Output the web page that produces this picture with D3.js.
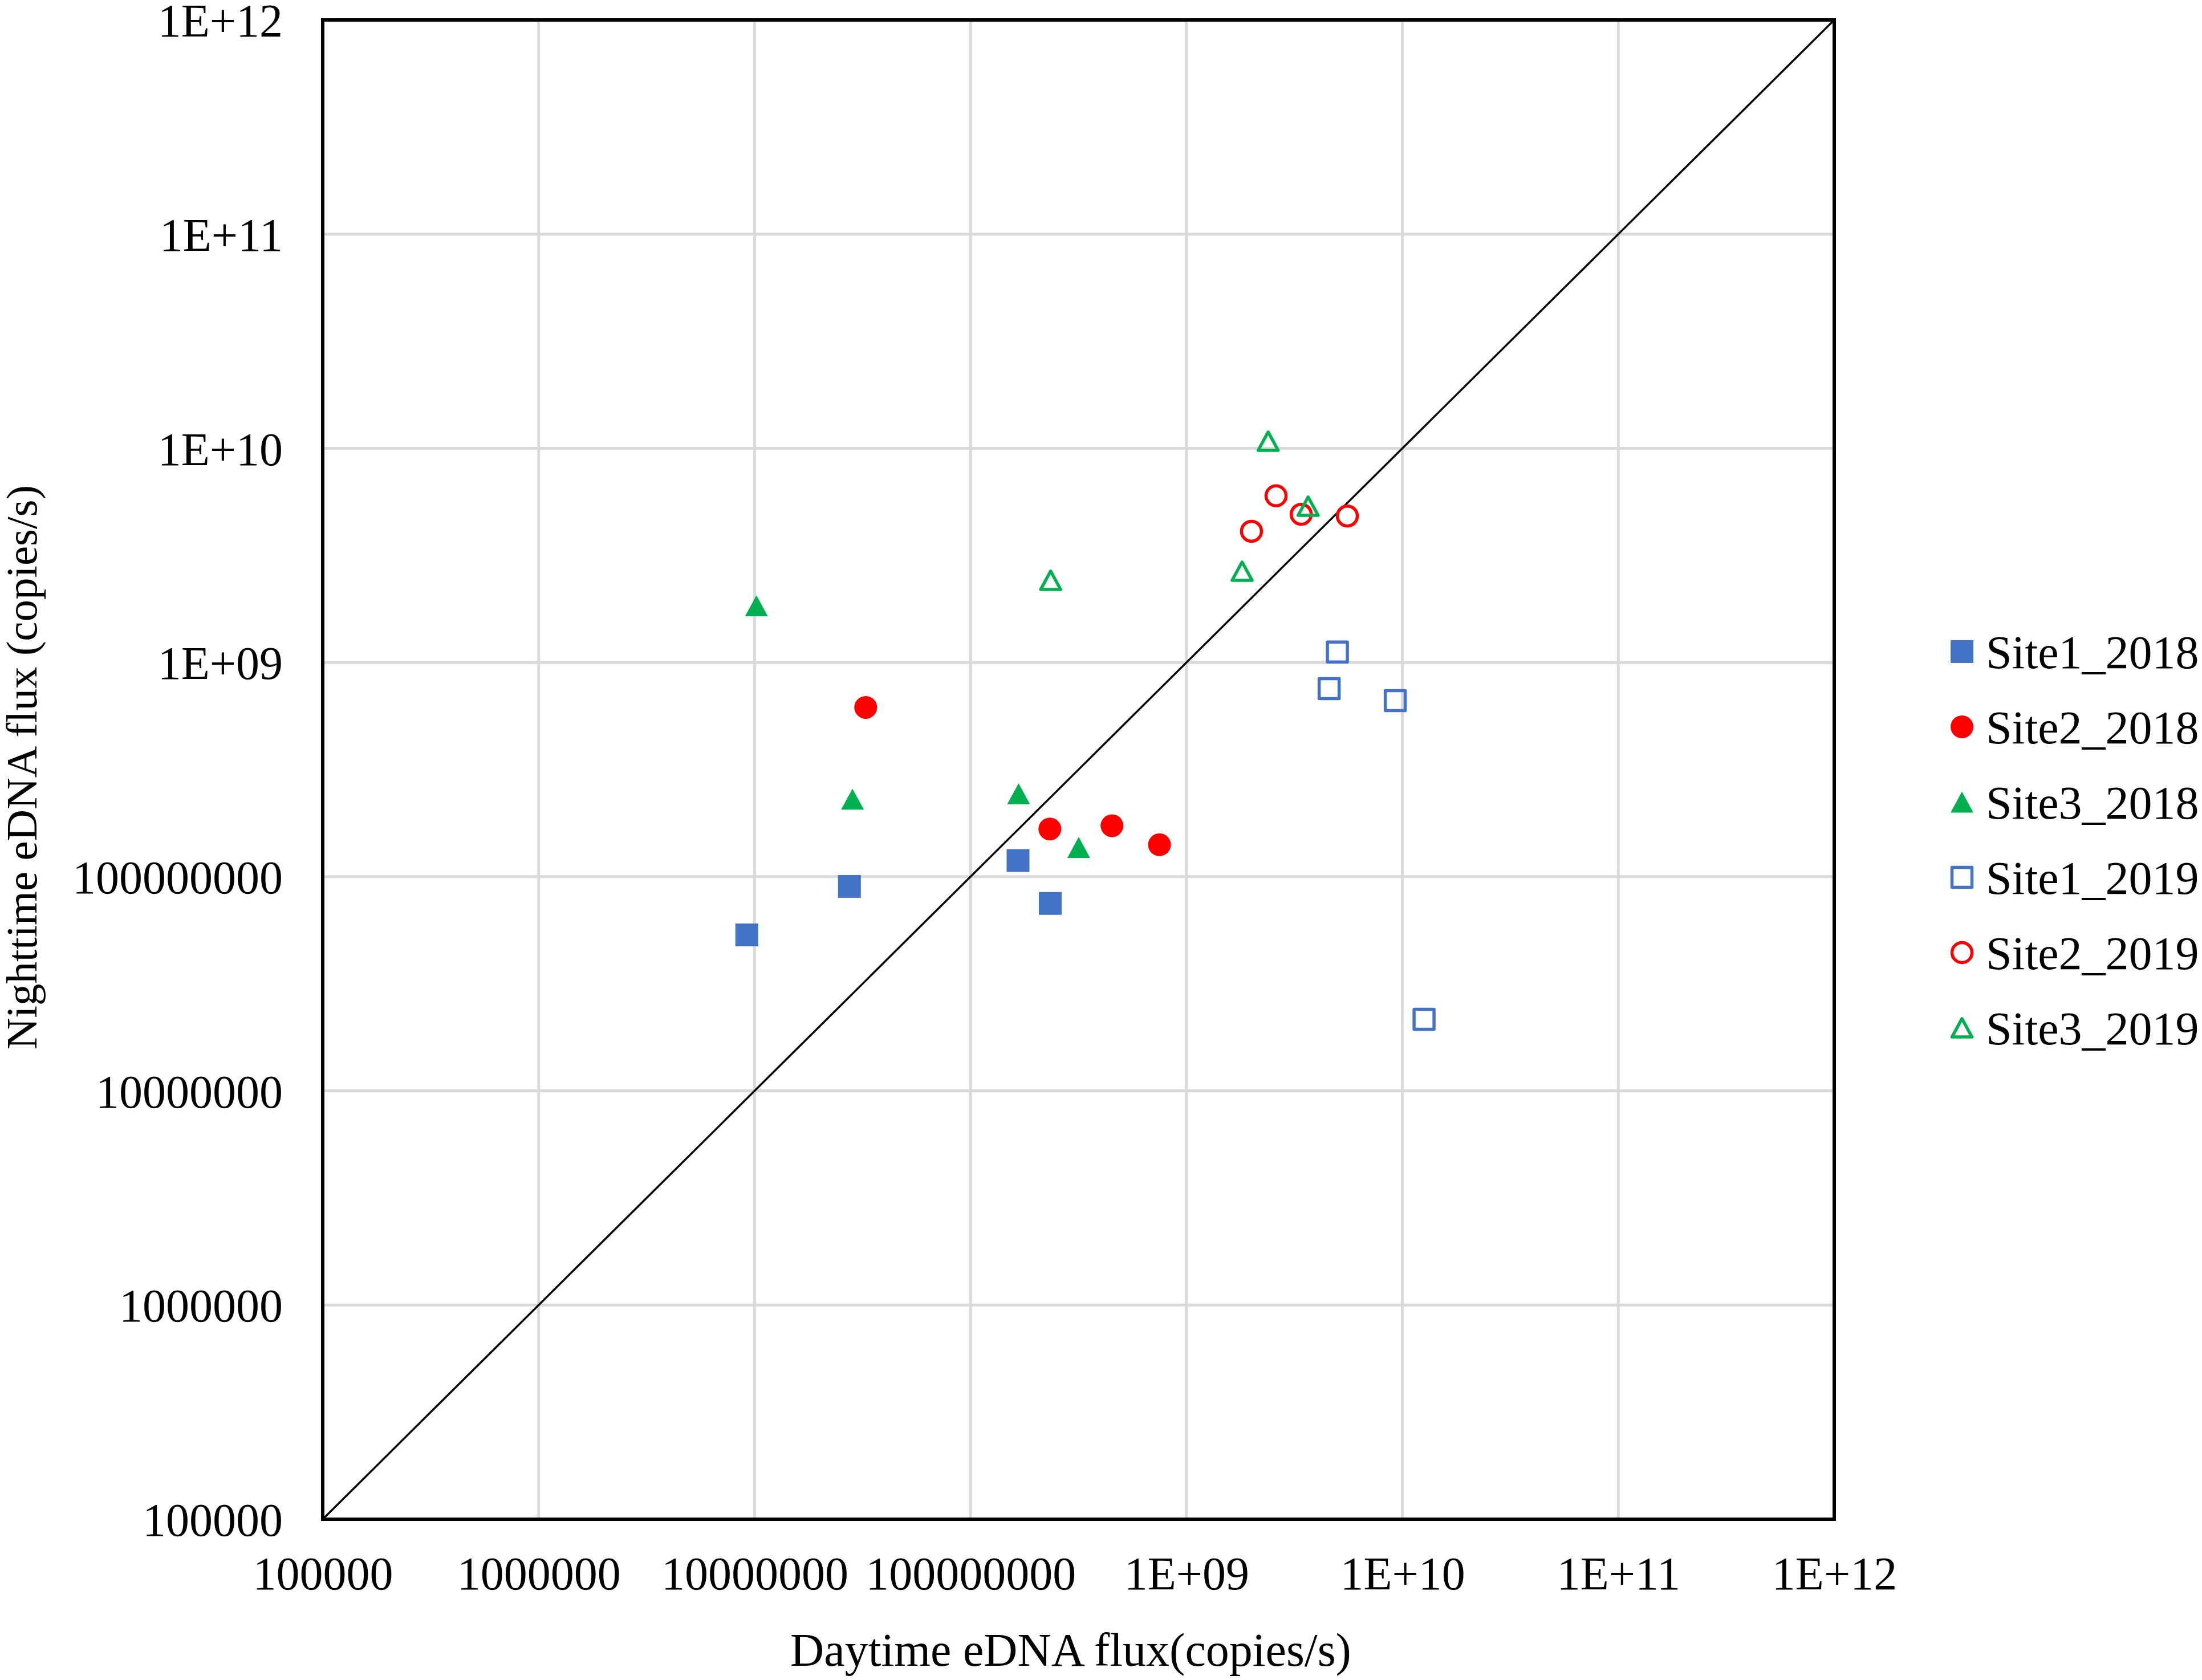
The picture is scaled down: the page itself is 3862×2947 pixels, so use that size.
<!DOCTYPE html>
<html>
<head>
<meta charset="utf-8">
<script src="https://cdn.jsdelivr.net/npm/d3@7"></script>
<style>
  body { margin: 0; background: #fff; }
  text { font-family: "Liberation Serif", "Times New Roman", serif; fill: #000; }
</style>
</head>
<body>
<svg id="drawing_region"></svg>
<script>
// values (copies/s)
const seriesNames = ['Site1_2018', 'Site2_2018', 'Site3_2018', 'Site1_2019', 'Site2_2019', 'Site3_2019'];

const site1_2018_day   = [9.2e6, 2.75e7, 1.66e8, 2.34e8];
const site1_2018_night = [5.35e7, 9.0e7, 1.19e8, 7.5e7];
const site2_2018_day   = [3.27e7, 2.33e8, 4.52e8, 7.5e8];
const site2_2018_night = [6.17e8, 1.67e8, 1.73e8, 1.41e8];
const site3_2018_day   = [1.02e7, 2.84e7, 1.67e8, 3.17e8];
const site3_2018_night = [1.84e9, 2.30e8, 2.44e8, 1.37e8];
const site1_2019_day   = [5.0e9, 4.58e9, 9.27e9, 1.26e10];
const site1_2019_night = [1.12e9, 7.55e8, 6.64e8, 2.16e7];
const site2_2019_day   = [2.0e9, 2.6e9, 3.4e9, 5.56e9];
const site2_2019_night = [4.1e9, 6.0e9, 4.92e9, 4.83e9];
const site3_2019_day   = [2.35e8, 1.81e9, 2.39e9, 3.66e9];
const site3_2019_night = [2.42e9, 2.67e9, 1.08e10, 5.37e9];

const tickValues = [1e5, 1e6, 1e7, 1e8, 1e9, 1e10, 1e11, 1e12];

const dayValues   = [site1_2018_day, site2_2018_day, site3_2018_day, site1_2019_day, site2_2019_day, site3_2019_day];
const nightValues = [site1_2018_night, site2_2018_night, site3_2018_night, site1_2019_night, site2_2019_night, site3_2019_night];

const series = seriesNames.map((name, i) => ({
    name: name,
    shape: ['square', 'circle', 'triangle'][i % 3],
    color: ['#4472C4', '#FF0000', '#00B050'][i % 3],
    filled: i < 3,
    points: dayValues[i].map((d, j) => ({ day: d, night: nightValues[i][j] }))
}));

const config = {
    width: 3862,
    height: 2947,
    margin: { left: 566, right: 645, top: 35, bottom: 282 },
    fontSize: 82
};

const W = config.width, H = config.height;
const plotLeft = config.margin.left, plotRight = W - config.margin.right;
const plotTop = config.margin.top, plotBottom = H - config.margin.bottom;

const svg = d3.select('#drawing_region')
    .attr('width', W)
    .attr('height', H);

const x = d3.scaleLog().domain([1e5, 1e12]).range([plotLeft, plotRight]);
const y = d3.scaleLog().domain([1e5, 1e12]).range([plotBottom, plotTop]);

const fmt = v => {
    const e = Math.round(Math.log10(v));
    return e < 9 ? String(Math.round(v)) : '1E+' + String(e).padStart(2, '0');
};

// grid
svg.append('g')
    .selectAll('line')
    .data(tickValues)
    .enter()
    .append('line')
    .attr('x1', d => x(d)).attr('x2', d => x(d))
    .attr('y1', plotTop).attr('y2', plotBottom)
    .attr('stroke', '#d9d9d9')
    .attr('stroke-width', 5);

svg.append('g')
    .selectAll('line')
    .data(tickValues)
    .enter()
    .append('line')
    .attr('x1', plotLeft).attr('x2', plotRight)
    .attr('y1', d => y(d)).attr('y2', d => y(d))
    .attr('stroke', '#d9d9d9')
    .attr('stroke-width', 5);

// 1:1 line
svg.append('line')
    .attr('x1', x(1e5)).attr('y1', y(1e5))
    .attr('x2', x(1e12)).attr('y2', y(1e12))
    .attr('stroke', '#000')
    .attr('stroke-width', 3.5);

// axes (labels only)
const xAxis = svg.append('g')
    .attr('transform', `translate(0, ${plotBottom})`)
    .call(d3.axisBottom(x).tickValues(tickValues).tickFormat(fmt).tickSize(0).tickPadding(123));
const yAxis = svg.append('g')
    .attr('transform', `translate(${plotLeft}, 0)`)
    .call(d3.axisLeft(y).tickValues(tickValues).tickFormat(fmt).tickSize(0).tickPadding(70));

[xAxis, yAxis].forEach(g => {
    g.select('.domain').remove();
    g.selectAll('text')
        .attr('font-family', '"Liberation Serif", "Times New Roman", serif')
        .attr('font-size', config.fontSize)
        .attr('fill', '#000');
});
xAxis.selectAll('text').attr('dy', 0);
yAxis.selectAll('text').attr('dy', '0.35em');

// plot border
svg.append('rect')
    .attr('x', plotLeft).attr('y', plotTop)
    .attr('width', plotRight - plotLeft).attr('height', plotBottom - plotTop)
    .attr('fill', 'none')
    .attr('stroke', '#000')
    .attr('stroke-width', 6);

// marker paths, centred on the bounding box like Excel markers
function markerPath(shape, s) {
    const h = s / 2;
    if (shape === 'square') {
        return `M${-h},${-h}H${h}V${h}H${-h}Z`;
    }
    if (shape === 'circle') {
        return `M${-h},0A${h},${h} 0 1,0 ${h},0A${h},${h} 0 1,0 ${-h},0Z`;
    }
    const th = s * 0.92 / 2;
    return `M0,${-th}L${h},${th}L${-h},${th}Z`;
}

function drawMarker(sel, s) {
    sel.attr('d', d => markerPath(d.shape, d.filled ? s : s - 5))
        .attr('fill', d => d.filled ? d.color : 'none')
        .attr('stroke', d => d.filled ? 'none' : d.color)
        .attr('stroke-width', d => d.filled ? 0 : 5.5)
        .attr('stroke-linejoin', 'round');
}

const groups = svg.append('g')
    .selectAll('g')
    .data(series)
    .enter()
    .append('g');

groups.selectAll('path')
    .data(s => s.points.map(p => Object.assign({}, p, { shape: s.shape, color: s.color, filled: s.filled })))
    .enter()
    .append('path')
    .attr('transform', d => `translate(${x(d.day)}, ${y(d.night)})`)
    .call(drawMarker, 40);

// axis titles
svg.append('text')
    .attr('x', 1878)
    .attr('y', 2922)
    .attr('text-anchor', 'middle')
    .attr('font-size', config.fontSize)
    .text('Daytime eDNA flux(copies/s)');

svg.append('text')
    .attr('transform', `translate(64, 1346) rotate(-90)`)
    .attr('text-anchor', 'middle')
    .attr('font-size', 77)
    .text('Nighttime eDNA flux (copies/s)');

// legend
const legend = svg.append('g')
    .selectAll('g')
    .data(series)
    .enter()
    .append('g')
    .attr('transform', (d, i) => `translate(3441, ${1143 + i * 132})`);

legend.append('path')
    .call(drawMarker, 40);

legend.append('text')
    .attr('x', 42)
    .attr('dy', '0.35em')
    .attr('font-size', config.fontSize)
    .text(d => d.name);
</script>
</body>
</html>
